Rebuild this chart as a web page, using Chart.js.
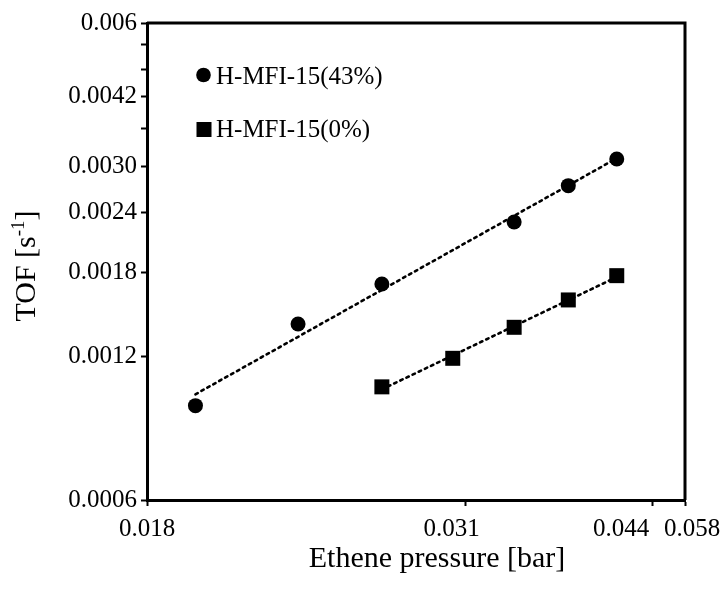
<!DOCTYPE html>
<html>
<head>
<meta charset="utf-8">
<script src="https://cdn.jsdelivr.net/npm/chart.js@4"></script>
<style>
  html, body { margin: 0; padding: 0; background: #fff; }
  #wrap { width: 726px; height: 595px; position: relative; }
</style>
</head>
<body>
<div id="wrap"><canvas id="c" width="726" height="595"></canvas></div>
<script>
// Ethene pressure [bar] and turnover frequency [s-1] for the two samples
const pressure43 = [0.020, 0.025, 0.030, 0.040, 0.045, 0.050];
const tof43      = [0.000946, 0.001403, 0.001702, 0.002296, 0.002736, 0.003112];
const pressure0  = [0.030, 0.035, 0.040, 0.045, 0.050];
const tof0       = [0.001036, 0.001189, 0.001381, 0.001576, 0.001772];

const seriesLabels = ['H-MFI-15(43%)', 'H-MFI-15(0%)'];

// Axis ticks (log axes)
const xTickValues = [0.018, 0.036, 0.054, 0.058];
const xTickLabels = ['0.018', '0.031', '0.044', '0.058'];
const yTickValues = [0.0006, 0.0012, 0.0018, 0.0024, 0.0030, 0.0036, 0.0042, 0.0048, 0.0054, 0.006];
const yTickLabels = ['0.0006', '0.0012', '0.0018', '0.0024', '0.0030', '', '0.0042', '', '', '0.006'];

// horizontal nudge of each x tick label so neighbours do not collide
const xLabelShift = [0, -14, -31, 7];

const SERIF = '"Liberation Serif", "Times New Roman", serif';

// Power-law trendline (least squares in log-log space) across the data range
function powerFit(xs, ys) {
  const n = xs.length;
  const lx = xs.map(Math.log), ly = ys.map(Math.log);
  const mx = lx.reduce((a, b) => a + b, 0) / n;
  const my = ly.reduce((a, b) => a + b, 0) / n;
  let sxy = 0, sxx = 0;
  for (let i = 0; i < n; i++) { sxy += (lx[i] - mx) * (ly[i] - my); sxx += (lx[i] - mx) ** 2; }
  const b = sxy / sxx, a = my - b * mx;
  const x0 = Math.min(...xs), x1 = Math.max(...xs);
  return [x0, x1].map(x => ({ x, y: Math.exp(a + b * Math.log(x)) }));
}

const toPts = (xs, ys) => xs.map((x, i) => ({ x, y: ys[i] }));

const trendStyle = {
  type: 'line', showLine: true, pointRadius: 0, borderColor: '#000',
  borderWidth: 2.6, borderDash: [2.6, 4.2], borderCapStyle: 'round', fill: false
};

// Plot frame on top and right
const framePlugin = {
  id: 'frame',
  afterDraw(chart) {
    const { ctx, chartArea: a } = chart;
    ctx.save();
    ctx.strokeStyle = '#000';
    ctx.lineWidth = 3;
    ctx.beginPath();
    ctx.moveTo(a.left, a.top);
    ctx.lineTo(a.right, a.top);
    ctx.lineTo(a.right, a.bottom);
    ctx.stroke();
    ctx.restore();
  }
};

// x tick labels, in-plot legend and axis titles
const textPlugin = {
  id: 'texts',
  afterDraw(chart) {
    const ctx = chart.ctx;
    const xs = chart.scales.x;
    ctx.save();
    ctx.fillStyle = '#000';

    // x tick labels
    ctx.font = '25px ' + SERIF;
    ctx.textAlign = 'center';
    ctx.textBaseline = 'middle';
    xTickValues.forEach((v, i) => {
      ctx.fillText(xTickLabels[i], xs.getPixelForValue(v) + xLabelShift[i], 529);
    });

    // legend
    ctx.textAlign = 'left';
    ctx.beginPath();
    ctx.arc(203.5, 75, 7.3, 0, Math.PI * 2);
    ctx.fill();
    ctx.fillText(seriesLabels[0], 216, 77);
    ctx.fillRect(196.5, 122, 15, 15);
    ctx.fillText(seriesLabels[1], 216, 130);

    // x title
    ctx.font = '30px ' + SERIF;
    ctx.textAlign = 'center';
    ctx.textBaseline = 'alphabetic';
    ctx.fillText('Ethene pressure [bar]', 437, 567);

    // y title with superscript
    ctx.translate(35, 266);
    ctx.rotate(-Math.PI / 2);
    const big = '30px ' + SERIF, small = '19px ' + SERIF;
    ctx.font = big;
    const w1 = ctx.measureText('TOF [s').width;
    const w3 = ctx.measureText(']').width;
    ctx.font = small;
    const w2 = ctx.measureText('-1').width;
    let x = -(w1 + w2 + w3) / 2;
    ctx.textAlign = 'left';
    ctx.font = big;
    ctx.fillText('TOF [s', x, 0);
    x += w1;
    ctx.font = small;
    ctx.fillText('-1', x, -11);
    x += w2;
    ctx.font = big;
    ctx.fillText(']', x, 0);
    ctx.restore();
  }
};

new Chart(document.getElementById('c'), {
  type: 'scatter',
  data: {
    datasets: [
      { label: seriesLabels[0], data: toPts(pressure43, tof43), pointStyle: 'circle', pointRadius: 7.5,
        backgroundColor: '#000', borderColor: '#000', borderWidth: 0, order: 1 },
      { label: seriesLabels[1], data: toPts(pressure0, tof0), pointStyle: 'rect', pointRadius: 10.6,
        backgroundColor: '#000', borderColor: '#000', borderWidth: 0, order: 1 },
      Object.assign({ label: 'fit43', data: powerFit(pressure43, tof43), order: 2 }, trendStyle),
      Object.assign({ label: 'fit0', data: powerFit(pressure0, tof0), order: 2 }, trendStyle)
    ]
  },
  options: {
    responsive: false,
    animation: false,
    layout: { padding: { left: 0, top: 23, right: 41, bottom: 0 } },
    plugins: { legend: { display: false }, tooltip: { enabled: false } },
    scales: {
      x: {
        type: 'logarithmic', min: 0.018, max: 0.058,
        afterBuildTicks: s => { s.ticks = xTickValues.map(v => ({ value: v })); },
        afterFit: s => { s.height = 95; },
        border: { color: '#000', width: 3 },
        grid: { drawOnChartArea: false, drawTicks: true, tickLength: 6, tickWidth: 2, color: '#000' },
        ticks: {
          autoSkip: false, maxRotation: 0, color: 'rgba(0,0,0,0)', padding: 8,
          font: { family: SERIF, size: 25 },
          callback: (v, i) => xTickLabels[i]
        }
      },
      y: {
        type: 'logarithmic', min: 0.0006, max: 0.006,
        afterBuildTicks: s => { s.ticks = yTickValues.map(v => ({ value: v })); },
        afterFit: s => { s.width = 147; },
        border: { color: '#000', width: 3 },
        grid: { drawOnChartArea: false, drawTicks: true, tickLength: 6, tickWidth: 2, color: '#000' },
        ticks: {
          autoSkip: false, color: '#000', padding: 4,
          font: { family: SERIF, size: 25 },
          callback: (v, i) => yTickLabels[i]
        }
      }
    }
  },
  plugins: [framePlugin, textPlugin]
});
</script>
</body>
</html>
